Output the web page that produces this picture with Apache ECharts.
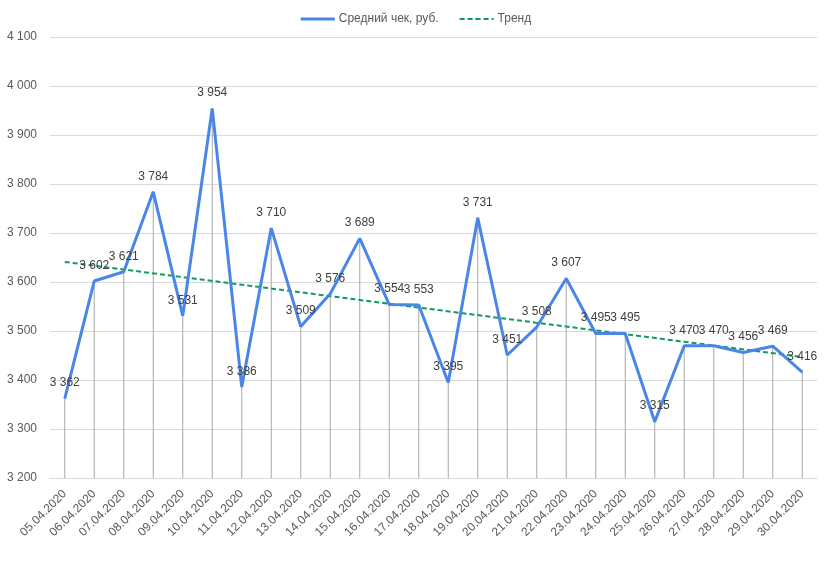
<!DOCTYPE html>
<html><head><meta charset="utf-8">
<script src="https://cdn.jsdelivr.net/npm/echarts@6/dist/echarts.min.js"></script>
<style>html,body{margin:0;padding:0;background:#fff}#c{width:832px;height:564px}</style>
</head><body><div id="c"></div>
<script>
const categories = ['05.04.2020','06.04.2020','07.04.2020','08.04.2020','09.04.2020','10.04.2020','11.04.2020','12.04.2020','13.04.2020','14.04.2020','15.04.2020','16.04.2020','17.04.2020','18.04.2020','19.04.2020','20.04.2020','21.04.2020','22.04.2020','23.04.2020','24.04.2020','25.04.2020','26.04.2020','27.04.2020','28.04.2020','29.04.2020','30.04.2020'];
const avgCheck = [3362,3602,3621,3784,3531,3954,3386,3710,3509,3576,3689,3554,3553,3395,3731,3451,3508,3607,3495,3495,3315,3470,3470,3456,3469,3416];
const trendStart = 3641;
const trendEnd = 3447;
const trend = categories.map((c,i)=> i===0 ? trendStart : (i===categories.length-1 ? trendEnd : null));
const fmt = v => String(v).replace(/\B(?=(\d{3})+(?!\d))/g,' ');
const chart = echarts.init(document.getElementById('c'));
chart.setOption({
  animation:false,
  textStyle:{fontFamily:'Liberation Sans, Arial, sans-serif'},
  legend:{top:8,left:'center',itemWidth:34,itemHeight:3,itemGap:20,
    textStyle:{color:'#595959',fontSize:12,padding:[0,0,0,-1]},
    data:[{name:'Средний чек, руб.',icon:'rect'},{name:'Тренд'}]},
  grid:{left:50,right:15,top:37,bottom:86,containLabel:false},
  xAxis:{type:'category',data:categories,boundaryGap:true,
    axisLine:{lineStyle:{color:'#d9d9d9'}},axisTick:{show:false},
    axisLabel:{rotate:45,color:'#595959',fontSize:12,margin:14,interval:0}},
  yAxis:{type:'value',min:3200,max:4100,interval:100,
    axisLine:{show:false},axisTick:{show:false},
    splitLine:{lineStyle:{color:'#d9d9d9'}},
    axisLabel:{color:'#595959',fontSize:12,margin:13,formatter:fmt}},
  series:[
    {name:'drop',type:'bar',data:avgCheck,barWidth:1,silent:true,
      itemStyle:{color:'#a6a6a6'},z:1,legendHoverLink:false},
    {name:'Средний чек, руб.',type:'line',data:avgCheck,symbol:'circle',symbolSize:1,showSymbol:true,z:3,
      lineStyle:{color:'#4a86e8',width:3},itemStyle:{color:'#4a86e8'},
      labelLayout:{hideOverlap:false},
      label:{show:true,position:'top',distance:9,color:'#404040',fontSize:12,formatter:p=>fmt(p.value)}},
    {name:'Тренд',type:'line',data:trend,connectNulls:true,symbol:'none',z:2,
      lineStyle:{color:'#0f9d58',width:2,type:[5,3]},itemStyle:{color:'#0f9d58'}}
  ]
});
</script></body></html>
